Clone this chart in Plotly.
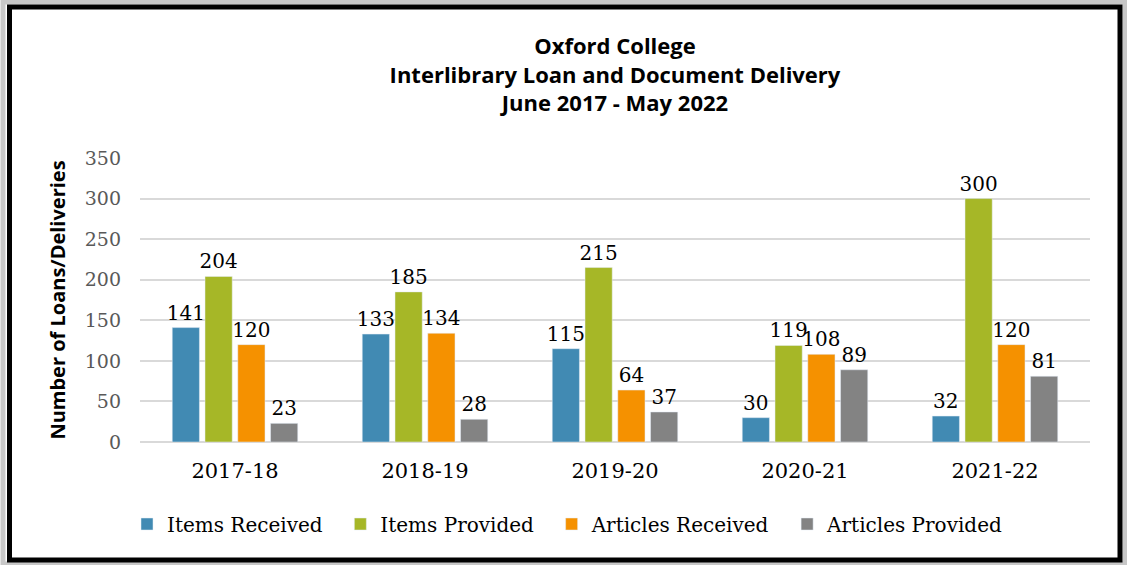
import plotly.graph_objects as go

years = ['2017-18', '2018-19', '2019-20', '2020-21', '2021-22']
items_received = [141, 133, 115, 30, 32]
items_provided = [204, 185, 215, 119, 300]
articles_received = [120, 134, 64, 108, 120]
articles_provided = [23, 28, 37, 89, 81]

series = [
    ('Items Received', items_received, '#418AB3'),
    ('Items Provided', items_provided, '#A6B727'),
    ('Articles Received', articles_received, '#F59100'),
    ('Articles Provided', articles_provided, '#838383'),
]

serif = 'DejaVu Serif'
sans = 'Open Sans'
pad = '\u00a0\u00a0'  # a bit of extra room between legend entries

fig = go.Figure()
for name, values, color in series:
    fig.add_trace(go.Bar(
        x=years, y=values, name=name + pad, marker_color=color,
        text=values, textposition='outside', cliponaxis=False,
        constraintext='none',
        textfont=dict(family=serif, size=20, color='black'),
    ))

# plot area in pixels: x 140..1090, y 158..442
W, H = 1127, 565
L, R, T, B = 140, 1090, 158, 442


def px(x):
    return (x - L) / (R - L)


def py(y):
    return (B - y) / (B - T)


shapes = [
    # soft shadow behind frame
    dict(type='rect', xref='paper', yref='paper', layer='below',
         x0=px(3), x1=px(1125), y0=py(2), y1=py(564),
         line=dict(color='rgba(0,0,0,0.22)', width=5), fillcolor='rgba(0,0,0,0)'),
    # black frame
    dict(type='rect', xref='paper', yref='paper', layer='above',
         x0=px(9.5), x1=px(1120), y0=py(7), y1=py(560),
         line=dict(color='black', width=5), fillcolor='rgba(0,0,0,0)'),
]

fig.update_layout(
    width=W, height=H,
    margin=dict(l=L, r=W - R, t=T, b=H - B, autoexpand=False),
    paper_bgcolor='white', plot_bgcolor='white',
    barmode='group', bargap=0.31, bargroupgap=0.17,
    title=dict(
        text='Oxford College<br>Interlibrary Loan and Document Delivery<br>June 2017 - May 2022',
        x=0.5, xref='paper', y=1 - 54 / H, yref='container',
        yanchor='top', xanchor='center',
        font=dict(family=sans, size=22, color='black', weight='bold'),
    ),
    showlegend=True,
    legend=dict(
        orientation='h', xref='container', yref='container',
        x=127 / W, xanchor='left', y=(H - 524) / H, yanchor='middle',
        font=dict(family=serif, size=20, color='black'),
        traceorder='normal',
    ),
    shapes=shapes,
)

fig.update_yaxes(
    range=[0, 350], dtick=50, showgrid=True, gridcolor='#D9D9D9', gridwidth=2,
    zeroline=True, zerolinecolor='#D9D9D9', zerolinewidth=2,
    tickfont=dict(family=serif, size=19, color='#595959'),
    ticks='', ticklabelstandoff=18, automargin=False,
    title=dict(text='Number of Loans/Deliveries', standoff=13,
               font=dict(family=sans, size=20, color='black', weight='bold')),
)
fig.update_xaxes(
    showline=False, ticks='', automargin=False,
    tickfont=dict(family=serif, size=21, color='black'),
    ticklabelstandoff=14,
)

# drop the page's default body margin so the figure sits at the window corner
fig.write_html('out.html', config={'displayModeBar': False},
               post_script="document.body.style.margin='0px';")
